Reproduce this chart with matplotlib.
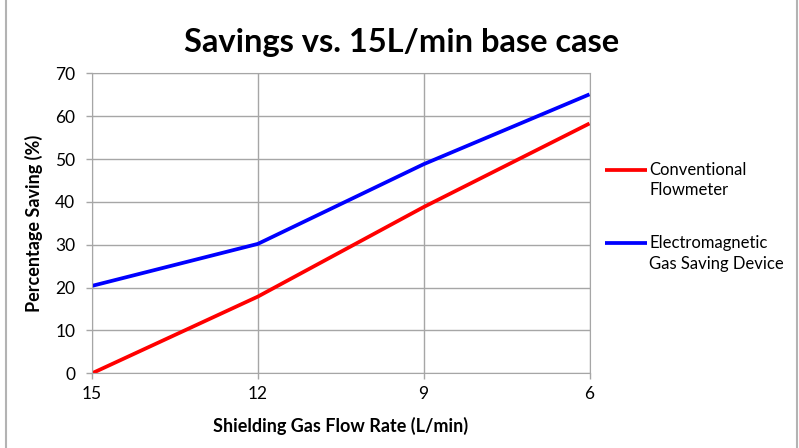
import matplotlib.pyplot as plt
from matplotlib.lines import Line2D
from matplotlib.legend_handler import HandlerLine2D

plt.rcParams['font.family'] = ['Lato', 'DejaVu Sans']

flow_rates = ['15', '12', '9', '6']
conventional = [0, 17.9, 38.8, 58.3]
electromagnetic = [20.4, 30.2, 48.8, 65.1]

LEGEND_LINESPACING = 1.35


class HandlerFirstLine(HandlerLine2D):
    # Excel puts the legend line next to the first text line, not the middle
    def create_artists(self, legend, orig_handle, xdescent, ydescent, width, height, fontsize, trans):
        artists = super().create_artists(legend, orig_handle, xdescent, ydescent, width, height, fontsize, trans)
        for a in artists:
            a.set_ydata([y + 0.5 * LEGEND_LINESPACING * fontsize for y in a.get_ydata()])
        return artists


fig = plt.figure(figsize=(7.99, 4.48), dpi=100)
ax = fig.add_axes([0.1151, 0.1667, 0.6227, 0.6696])

x = range(len(flow_rates))
ax.plot(x, conventional, color='#ff0000', lw=2.7, label='Conventional\nFlowmeter', solid_capstyle='butt')
ax.plot(x, electromagnetic, color='#0000ff', lw=2.7, label='Electromagnetic\nGas Saving Device', solid_capstyle='butt')

ax.set_xlim(0, len(flow_rates) - 1)
ax.set_ylim(0, 70)
ax.set_xticks(list(x))
ax.set_xticklabels(flow_rates)
ax.set_yticks(range(0, 71, 10))

ax.grid(True, color='#a6a6a6', lw=1)
for s in ax.spines.values():
    s.set_color('#a6a6a6')
ax.tick_params(axis='both', colors='#a6a6a6', labelcolor='black', labelsize=12.5, length=4, width=1)
ax.tick_params(axis='x', pad=5)
ax.tick_params(axis='y', pad=8)

ax.set_xlabel('Shielding Gas Flow Rate (L/min)', fontsize=13, fontweight='bold', labelpad=11)
ax.set_ylabel('Percentage Saving (%)', fontsize=13, fontweight='bold', labelpad=9)

fig.text(0.502, 0.905, 'Savings vs. 15L/min base case', ha='center', va='center',
         fontsize=23.5, fontweight='bold')

leg = fig.legend(loc='center left', bbox_to_anchor=(0.757, 0.516), frameon=False,
                 fontsize=12, handlelength=2.5, handletextpad=0.15, labelspacing=2.2,
                 borderpad=0, borderaxespad=0, handler_map={Line2D: HandlerFirstLine()})
for t in leg.get_texts():
    t.set_linespacing(LEGEND_LINESPACING)

# chart border (left and right edges visible)
fig.add_artist(Line2D([0.0075, 0.0075], [0, 1], color='#b3b3b3', lw=1.5, transform=fig.transFigure))
fig.add_artist(Line2D([0.997, 0.997], [0, 1], color='#b3b3b3', lw=1.5, transform=fig.transFigure))

fig.savefig('out.png', dpi=100)
